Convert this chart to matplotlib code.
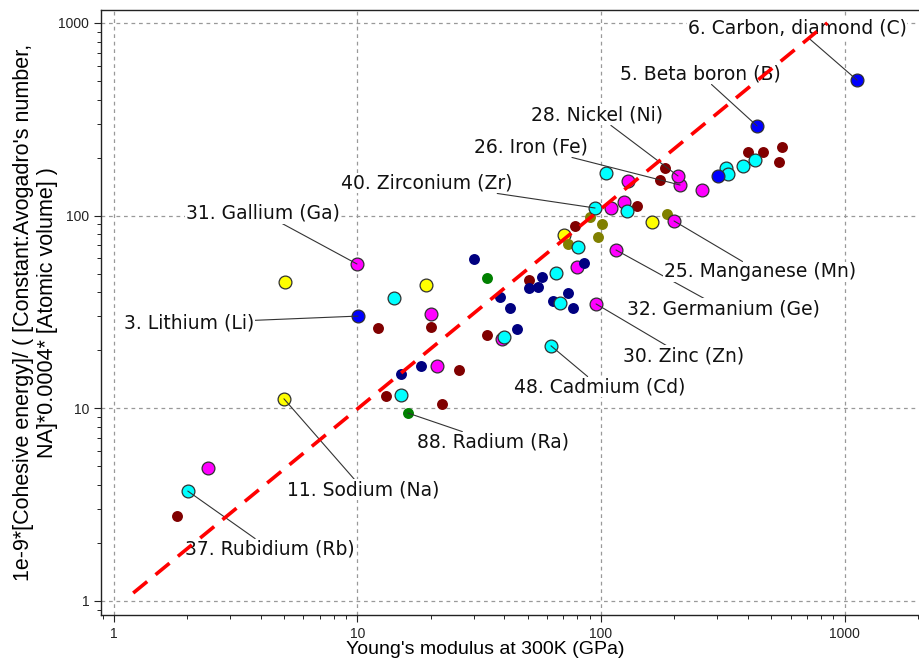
import matplotlib.pyplot as plt
import numpy as np
from matplotlib.ticker import FixedLocator, FuncFormatter, LogLocator, NullFormatter

# Young's modulus at 300K (GPa) vs cohesive energy density, grouped by marker colour
maroon_x = [12.1, 20.0, 34.0, 26.1, 13.1, 22.2, 1.81, 50.6, 78.2, 140.6, 174.7, 183.2, 401.6, 462.8, 553.7, 538.0]
maroon_y = [26.1, 26.4, 24.0, 15.8, 11.6, 10.5, 2.76, 46.3, 88.3, 112.1, 153.0, 176.6, 213.8, 213.8, 227.0, 189.7]

yellow_x = [5.04, 19.1, 4.99, 70.5, 162.0]
yellow_y = [45.2, 43.6, 11.2, 79.3, 92.6]

olive_x = [90.1, 101.0, 73.2, 97.2, 186.6]
olive_y = [98.3, 90.5, 71.2, 77.4, 102.0]

magenta_x = [9.95, 20.0, 21.2, 2.43, 79.7, 39.2, 95.4, 115.2, 199.4, 109.9, 124.3, 129.1, 211.1, 207.1, 259.9]
magenta_y = [56.1, 30.9, 16.6, 4.9, 54.1, 22.9, 34.8, 66.3, 93.8, 109.5, 117.7, 151.2, 144.1, 160.6, 135.8]

navy_x = [30.1, 18.2, 15.1, 57.2, 50.6, 55.1, 38.5, 42.3, 63.5, 73.2, 76.7, 85.2, 45.2]
navy_y = [59.5, 16.6, 15.1, 48.0, 42.1, 42.6, 37.8, 33.2, 36.1, 39.7, 33.2, 56.8, 25.8]

cyan_x = [14.1, 15.1, 2.01, 40.0, 62.3, 67.9, 65.4, 80.4, 94.5, 127.9, 104.8, 326.0, 332.0, 383.0, 429.0]
cyan_y = [37.4, 11.7, 3.72, 23.4, 21.1, 35.2, 50.4, 68.7, 109.5, 105.6, 166.4, 176.6, 164.4, 180.9, 194.3]

green_x = [34.0, 16.1]
green_y = [47.5, 9.45]

blue_x = [1125.0, 437.0, 302.0, 10.05]
blue_y = [505.0, 292.0, 160.6, 30.1]

# labelled elements: point and label centre
label_names = ["6. Carbon, diamond (C)", "5. Beta boron (B)", "28. Nickel (Ni)", "26. Iron (Fe)",
               "40. Zirconium (Zr)", "31. Gallium (Ga)", "3. Lithium (Li)", "11. Sodium (Na)",
               "37. Rubidium (Rb)", "88. Radium (Ra)", "48. Cadmium (Cd)", "30. Zinc (Zn)",
               "32. Germanium (Ge)", "25. Manganese (Mn)"]
label_pt_x = [1125.0, 437.0, 207.1, 211.1, 94.5, 9.95, 10.05, 4.99, 2.01, 16.1, 62.3, 95.4, 115.2, 199.4]
label_pt_y = [505.0, 292.0, 160.6, 144.1, 109.5, 56.1, 30.1, 11.2, 3.72, 9.45, 21.1, 34.8, 66.3, 93.8]
label_tx = [638, 255, 96.3, 51.6, 19.3, 4.09, 2.03, 10.6, 4.37, 36.0, 99.1, 219, 317, 450]
label_ty = [941, 543, 333, 227, 147.6, 103, 27.7, 3.77, 1.86, 6.68, 12.9, 18.7, 32.8, 51.0]

# fitted trend line
trend_x = [1.2, 850]
trend_y = [1.1, 1000]

fig = plt.figure(figsize=(9.2, 6.66), dpi=100)
ax = fig.add_axes([0.1098, 0.0766, 0.8902, 0.9084])
ax.set_xscale('log')
ax.set_yscale('log')
ax.set_xlim(0.885, 2040)
ax.set_ylim(0.846, 1167)

plain = dict(s=62, linewidths=0, zorder=3)
edged = dict(s=85, edgecolors='#303030', linewidths=0.9, zorder=3)
ax.scatter(maroon_x, maroon_y, c='#800000', **plain)
ax.scatter(yellow_x, yellow_y, c='#FFFF00', **edged)
ax.scatter(olive_x, olive_y, c='#808000', **plain)
ax.scatter(magenta_x, magenta_y, c='#FF00FF', **edged)
ax.scatter(navy_x, navy_y, c='#000080', **plain)
ax.scatter(cyan_x, cyan_y, c='#00FFFF', **edged)
ax.scatter(green_x, green_y, c='#008000', **plain)
ax.scatter(blue_x, blue_y, c='#0000FF', **edged)

for name, px, py, tx, ty in zip(label_names, label_pt_x, label_pt_y, label_tx, label_ty):
    ax.annotate(name, xy=(px, py), xytext=(tx, ty), textcoords='data',
                ha='center', va='center', fontsize=13.5, family='DejaVu Sans', color='#111111',
                bbox=dict(boxstyle='square,pad=0.05', fc='white', ec='none'),
                arrowprops=dict(arrowstyle='-', color='#333333', lw=0.8, shrinkA=0, shrinkB=0),
                zorder=4)

ax.plot(trend_x, trend_y, color='red', lw=2.6, dashes=(5, 3), zorder=5)

ax.xaxis.set_major_locator(FixedLocator([1, 10, 100, 1000]))
ax.yaxis.set_major_locator(FixedLocator([1, 10, 100, 1000]))
ax.xaxis.set_minor_locator(LogLocator(base=10, subs=np.arange(2, 10), numticks=20))
ax.yaxis.set_minor_locator(LogLocator(base=10, subs=np.arange(2, 10), numticks=20))
fmt = FuncFormatter(lambda v, p: f"{v:g}")
ax.xaxis.set_major_formatter(fmt)
ax.yaxis.set_major_formatter(fmt)
ax.xaxis.set_minor_formatter(NullFormatter())
ax.yaxis.set_minor_formatter(NullFormatter())
ax.tick_params(which='major', direction='out', length=5, width=0.8, labelsize=10, colors='#222222')
ax.tick_params(which='minor', direction='out', length=3, width=0.6)
for lab in ax.get_xticklabels() + ax.get_yticklabels():
    lab.set_family('Liberation Sans')

ax.grid(True, which='major', color='#999999', linestyle=(0, (3, 3)), lw=0.9, zorder=0)
ax.set_axisbelow(True)
for sp in ax.spines.values():
    sp.set_linewidth(1.0)
    sp.set_color('#222222')

ax.set_xlabel("Young's modulus at 300K (GPa)", fontsize=14, family='Liberation Sans')
ax.xaxis.set_label_coords(0.469, -0.043, transform=ax.transAxes)
ax.xaxis.label.set_va('top')
ax.set_ylabel("1e-9*[Cohesive energy]/ ( [Constant:Avogadro's number,\nNA]*0.0004* [Atomic volume] )",
              fontsize=15.5, family='Liberation Sans', multialignment='center', linespacing=1.2)
ax.yaxis.set_label_coords(-0.052, 0.5)

fig.savefig('out.png', dpi=100)
